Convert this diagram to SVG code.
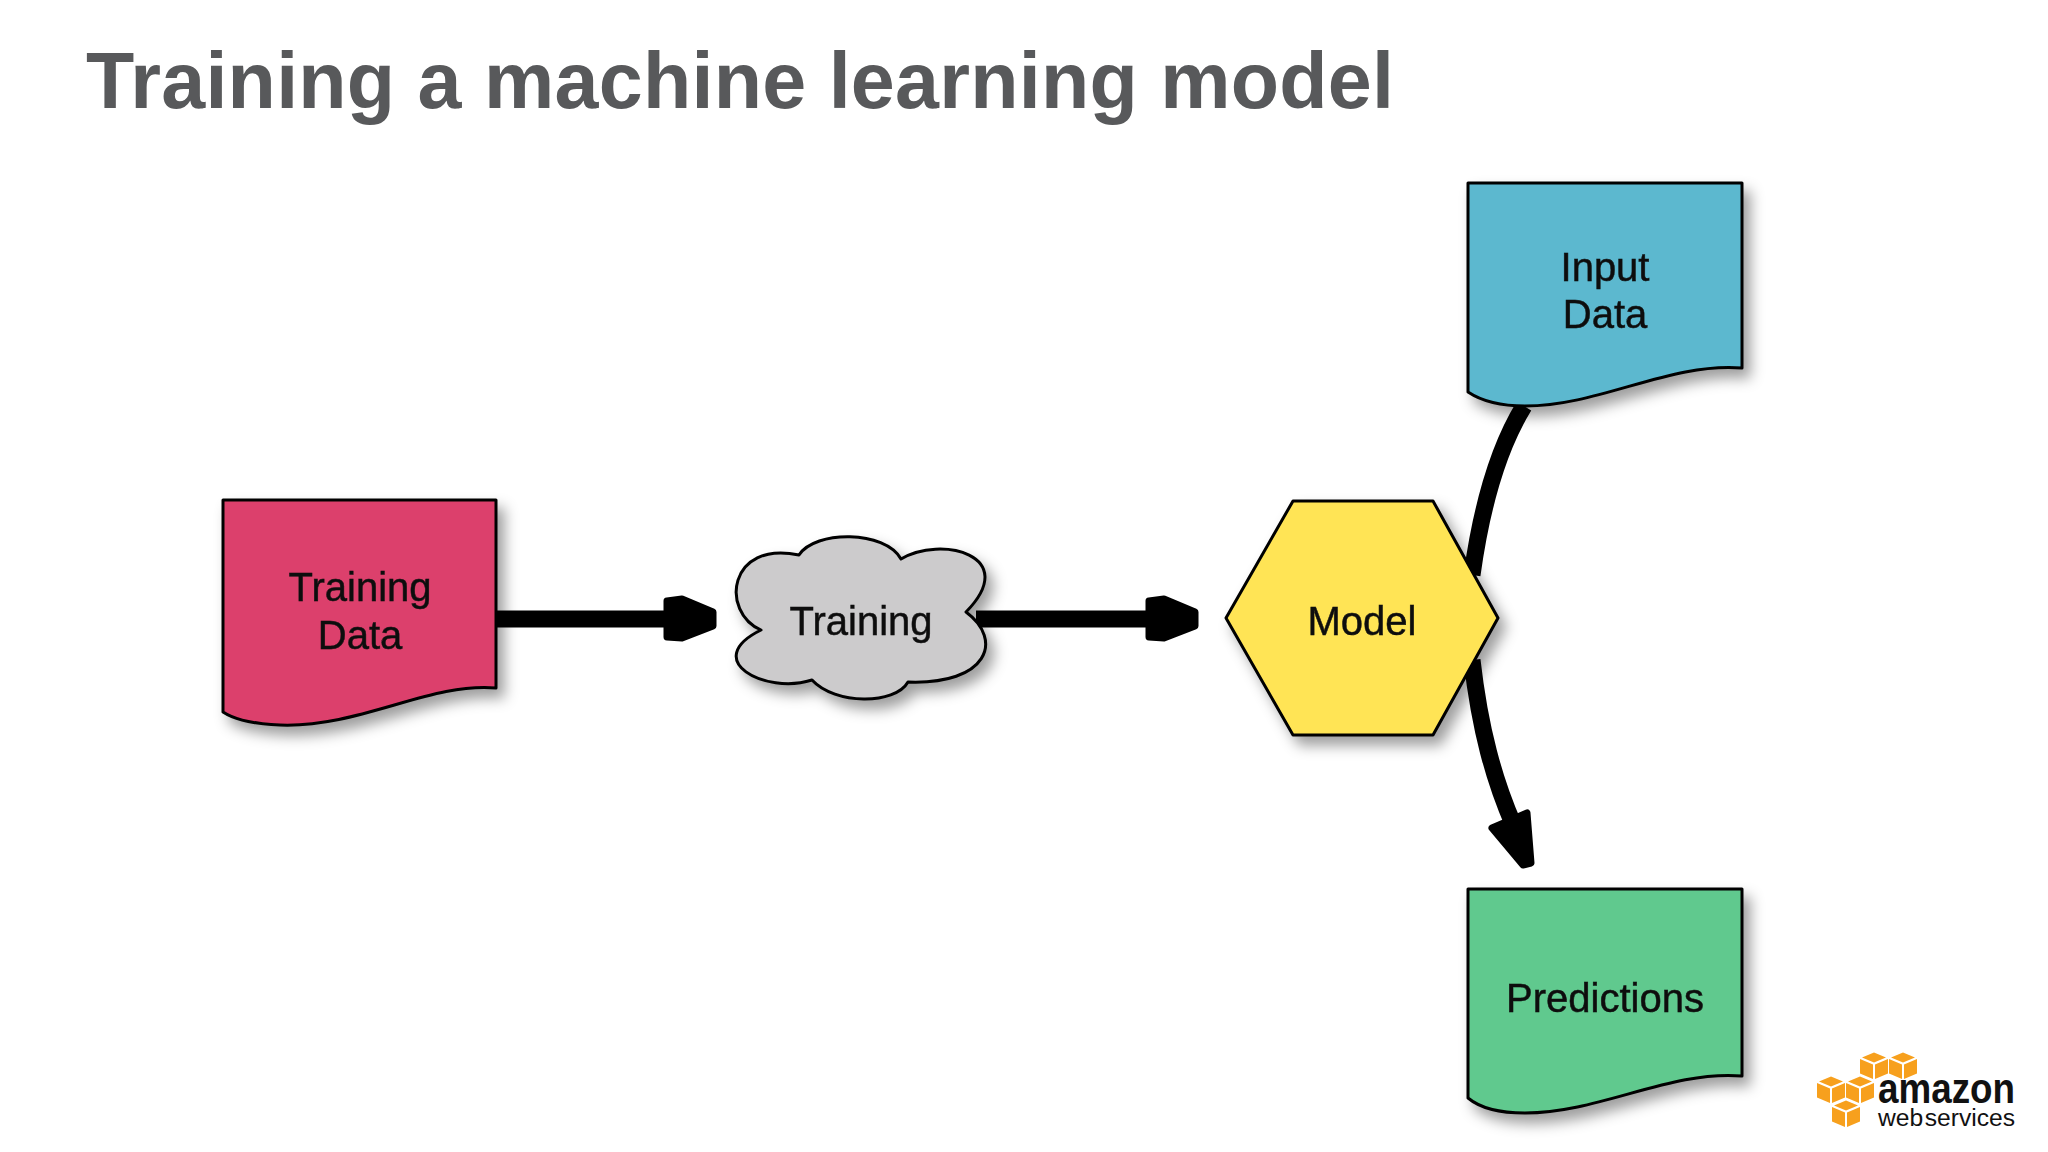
<svg xmlns="http://www.w3.org/2000/svg" width="2048" height="1152" viewBox="0 0 2048 1152">
<defs>
<filter id="shadow" x="-15%" y="-15%" width="135%" height="135%"><feGaussianBlur in="SourceAlpha" stdDeviation="7" result="b"/><feOffset in="b" dx="7" dy="9" result="o"/><feFlood flood-color="#000" flood-opacity="0.38"/><feComposite in2="o" operator="in" result="s"/><feGaussianBlur in="SourceGraphic" stdDeviation="0.6" result="g"/><feMerge><feMergeNode in="s"/><feMergeNode in="g"/></feMerge></filter>
<filter id="soft" filterUnits="userSpaceOnUse" x="0" y="0" width="2048" height="1152"><feGaussianBlur stdDeviation="0.7"/></filter>
<path id="cube" d="M0,7 L13,12.500 L13,27 L0,21.500 Z M15,12.500 L28,7 L28,21.500 L15,27 Z M2,5.500 L14,0.500 L26,5.500 L14,10.500 Z"/>
</defs>
<style>
text{font-family:"Liberation Sans",Arial,sans-serif}
.shape{stroke:#000;stroke-width:3;stroke-linejoin:round;filter:url(#shadow)}
.label{font-size:40px;fill:#111;stroke:#111;stroke-width:0.5;text-anchor:middle;filter:url(#soft)}
.wire{fill:none;stroke:#000;stroke-width:17}
.head{fill:#000;stroke:#000;stroke-width:7;stroke-linejoin:round}
.cube{fill:#f7a01d}
</style>
<rect width="2048" height="1152" fill="#fff"/>
<text id="title" x="86" y="108" font-size="79" font-weight="700" fill="#58595b" textLength="1308" lengthAdjust="spacing">Training a machine learning model</text>
<g id="connectors" filter="url(#soft)">
<path class="wire" d="M496,619 H670"/><path class="head" d="M667,601 L682,599 L713,612 V626 L682,638 L667,637 Z"/>
<path class="wire" d="M976,619 H1150"/><path class="head" d="M1149,601 L1164,599 L1195,612 V626 L1164,638 L1149,637 Z"/>
<path class="wire" d="M1524,406 C1497,450 1481,510 1472,575"/>
<path class="wire" d="M1472,660 C1480,730 1494,780 1514,826"/><path class="head" d="M1492,828 L1527,813 L1531,863 L1523,865 Z"/>
</g>
<g id="training-data"><path class="shape" fill="#dc416c" d="M223,500 H496 V688 C430,682 360,728 280,725 C255,724 235,720 223,712 Z"/><text class="label" x="360" y="601">Training</text><text class="label" x="360" y="649">Data</text></g>
<g id="training"><path class="shape" fill="#cccbcc" d="M799,555 C815,530 885,530 901,559 C940,535 1022,555 966,612 C1004,640 988,685 908,682 C895,705 835,705 812,680 C765,695 700,660 761,630 C720,612 728,540 799,555 Z"/><text class="label" x="861" y="635">Training</text></g>
<g id="model"><path class="shape" fill="#ffe455" d="M1226,618 L1293,501 H1433 L1498,618 L1433,735 H1293 Z"/><text class="label" x="1362" y="635">Model</text></g>
<g id="input-data"><path class="shape" fill="#5bb8cf" d="M1468,183 H1742 V368 C1670,362 1600,406 1525,406 C1500,406 1480,400 1468,392 Z"/><text class="label" x="1605" y="281">Input</text><text class="label" x="1605" y="328">Data</text></g>
<g id="predictions"><path class="shape" fill="#60c98e" d="M1468,889 H1742 V1076 C1670,1070 1600,1113 1525,1113 C1500,1113 1480,1108 1468,1098 Z"/><text class="label" x="1605" y="1012">Predictions</text></g>
<g id="logo">
<use class="cube" href="#cube" x="1860" y="1052"/><use class="cube" href="#cube" x="1889" y="1052"/><use class="cube" href="#cube" x="1817" y="1076"/><use class="cube" href="#cube" x="1846" y="1076"/><use class="cube" href="#cube" x="1832" y="1100"/>
<text x="1878" y="1103" font-size="42" font-weight="700" fill="#111" textLength="137" lengthAdjust="spacingAndGlyphs">amazon</text>
<text x="1878" y="1126" font-size="23" fill="#111" textLength="137" lengthAdjust="spacingAndGlyphs" word-spacing="-5">web services</text>
</g>
</svg>
